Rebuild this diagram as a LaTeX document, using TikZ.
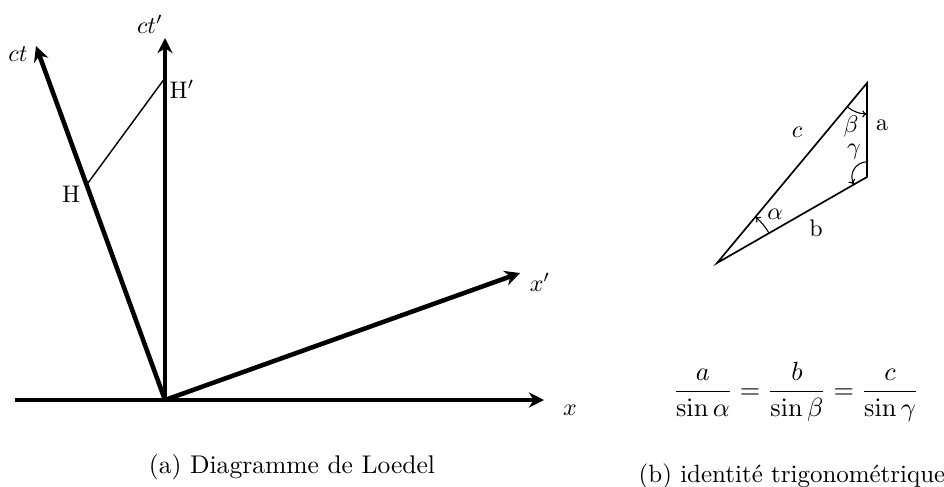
\documentclass[tikz,border=0pt]{standalone}
\usetikzlibrary{arrows.meta}
\begin{document}
\begin{tikzpicture}[x=0.41667pt,y=0.41667pt,
  axis/.style={line width=1.9pt,-{Stealth[length=6.3pt,width=6.3pt]}},
  thinline/.style={line width=0.6pt},
  tri/.style={line width=0.7pt,line join=miter},
  angarc/.style={line width=0.45pt,-{To[length=2pt,width=3pt]}},
  lab/.style={inner sep=1pt}]
\useasboundingbox (0,0) rectangle (944,486);
% --- left diagram ---
\coordinate (O) at (165,86);
\coordinate (xs) at (15,86);
\coordinate (xe) at (544,86);
\coordinate (xpe) at (520,213);
\coordinate (ctpe) at (165,448);
\coordinate (cte) at (36,440);
\coordinate (H) at (86.5,301);
\coordinate (Hp) at (165,408);
\draw[axis] (xs) -- (xe);
\draw[axis] (O) -- (xpe);
\draw[axis] (O) -- (ctpe);
\draw[axis] (O) -- (cte);
\draw[thinline] (H) -- (Hp);
\node[lab] (lx) at (570,76) {$x$};
\node[lab] (lxp) at (540,204) {$x'$};
\node[lab] (lctp) at (150,462) {$ct'$};
\node[lab] (lct) at (18,432) {$ct$};
\node[lab] (lH) at (71,292) {H};
\node[lab] (lHp) at (182,397) {H$'$};
% --- triangle ---
\coordinate (A) at (717,223);
\coordinate (B) at (867,403);
\coordinate (C) at (867,309);
\draw[tri] (A) -- (B) -- (C) -- cycle;
\draw[angarc] ([shift={(230.19:12.9pt)}]B) arc[start angle=230.19,end angle=270,radius=12.9pt];
\draw[angarc] ([shift={(90:6.3pt)}]C) arc[start angle=90,end angle=209.83,radius=6.3pt];
\draw[angarc] ([shift={(29.83:25pt)}]A) arc[start angle=29.83,end angle=50.19,radius=25pt];
\node[lab] (lc) at (797,354) {$c$};
\node[lab] (lbeta) at (851,360) {$\beta$};
\node[lab] (la) at (882,361) {a};
\node[lab] (lgamma) at (854,334) {$\gamma$};
\node[lab] (lalpha) at (775,272) {$\alpha$};
\node[lab] (lb) at (816,258) {b};
\node[lab,font=\fontsize{11.2}{13}\selectfont] (formula) at (796,94)
  {$\displaystyle\frac{a}{\sin\alpha}=\frac{b}{\sin\beta}=\frac{c}{\sin\gamma}$};
% --- captions ---
\node[font=\fontsize{10.65}{13}\selectfont] (capa) at (292,19) {(a) Diagramme de Loedel};
\node[font=\fontsize{10.4}{13}\selectfont] (capb) at (792,10) {(b) identité trigonométrique};
\end{tikzpicture}
\end{document}
